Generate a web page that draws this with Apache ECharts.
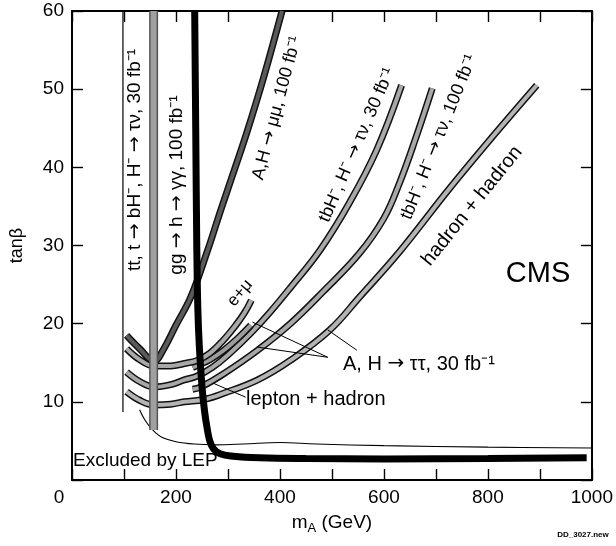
<!DOCTYPE html>
<html>
<head>
<meta charset="utf-8">
<script src="https://cdn.jsdelivr.net/npm/echarts@6/dist/echarts.min.js"></script>
<style>
  html, body { margin: 0; padding: 0; background: #fff; }
  #main { width: 616px; height: 546px; }
</style>
</head>
<body>
<div id="main"></div>
<script>
// reach curves, (mA [GeV], tan beta)
const hadHad = [[105,11.3],[130,10.2],[158,9.6],[190,9.7],[216,10.0],[254,10.3],[292,11.1],[357,12.8],[420,15.3],[496,19.2],[553,23.4],[630,29.2],[725,37.2],[810,44.0],[894,50.5]];
const tbH100 = [[232,11.6],[248,11.9],[292,13.6],[357,16.6],[420,20.0],[483,24.1],[553,29.0],[600,33.5],[630,38.0],[660,43.5],[693,50.1]];
const tbH30 = [[105,13.8],[130,12.6],[158,11.9],[190,12.2],[216,12.8],[241,13.3],[270,14.4],[300,16.0],[344,18.8],[380,21.4],[420,24.6],[477,29.4],[534,35.5],[586,42.2],[634,50.5]];
const tauLepHad = [[232,14.4],[265,15.4],[290,16.5],[320,18.2],[344,19.8]];
const ePlusMu = [[105,16.8],[130,15.4],[158,14.6],[190,14.6],[216,14.9],[241,15.3],[265,16.2],[290,17.8],[315,19.8],[332,21.4],[345,23.0]];
const muMu = [[105,18.5],[130,16.8],[158,15.2],[175,16.6],[200,19.8],[229,23.5],[261,29.4],[286,34.5],[312,39.6],[337,44.6],[369,51.6],[404,60]];
const ttH = [[157,60],[157,6.4]];
const ttEdge = [[98,60],[98,8.7]];
const lep = [[130,9.0],[140,7.7],[150,6.8],[160,6.1],[175,5.4],[200,4.9],[235,4.6],[275,4.5],[330,4.6],[400,4.8],[470,4.6],[600,4.4],[800,4.2],[1000,4.1]];
const ggGamma = [[236,60],[238,45],[240,30],[242,22],[245,17],[250,12],[255,8.8],[260,6.6],[265,5.0],[272,4.0],[285,3.35],[310,3.05],[360,2.85],[450,2.75],[600,2.7],[800,2.75],[990,2.85]];

// arrows from the A,H -> tautau label and the lepton+hadron pointer
const arrows = [[[492,15.7],[347,20.2]], [[492,15.7],[357,17.0]], [[548,16.6],[492,19.2]]];
const pointer = [[334,10.6],[271,12.4]];

const ff = '"Liberation Sans", Arial, sans-serif';
const f = s => s + 'px ' + ff;
const deg = d => d * Math.PI / 180;

function band(data, edge, fill, outer, inner) {
	return [
		{ type: 'line', data: data, smooth: 0.4, showSymbol: false, silent: true,
			lineStyle: { color: edge, width: outer } },
		{ type: 'line', data: data, smooth: 0.4, showSymbol: false, silent: true,
			lineStyle: { color: fill, width: inner } }
	];
}

// text label with a wider arrow glyph
function label(txt, x, y, size, rot, align) {
	return {
		type: 'text', x: x, y: y, rotation: deg(rot || 0), silent: true,
		style: {
			text: txt.replace(/→/g, '{a|→}'),
			font: f(size), fill: '#000',
			align: align || 'center', verticalAlign: 'middle',
			rich: { a: { fontFamily: '"DejaVu Sans"', fontSize: size, fill: '#000' } }
		}
	};
}

const series = [].concat(
	band(hadHad, '#111', '#b4b4b4', 7, 4),
	band(tbH100, '#111', '#a8a8a8', 7, 4),
	band(tbH30, '#111', '#a8a8a8', 7, 4),
	band(tauLepHad, '#111', '#9c9c9c', 7, 4),
	band(ePlusMu, '#111', '#a8a8a8', 7, 4),
	band(muMu, '#111', '#5a5a5a', 7, 4),
	[
		{ type: 'line', data: ttEdge, showSymbol: false, silent: true, lineStyle: { color: '#000', width: 1.2 } },
		{ type: 'line', data: lep, smooth: 0.4, showSymbol: false, silent: true, lineStyle: { color: '#000', width: 1.1 } }
	],
	band(ttH, '#555', '#a0a0a0', 9, 6),
	[
		{ type: 'line', data: ggGamma, smooth: 0.4, showSymbol: false, silent: true,
			lineStyle: { color: '#000', width: 7 },
			markLine: {
				silent: true, animation: false,
				symbol: ['none', 'arrow'], symbolSize: [0, 9],
				lineStyle: { color: '#000', width: 1, type: 'solid' },
				label: { show: false },
				data: arrows.map(a => [{ coord: a[0] }, { coord: a[1] }]).concat([
					[{ coord: pointer[0], symbol: 'none' }, { coord: pointer[1], symbol: 'none' }]
				])
			}
		}
	]
);

const chart = echarts.init(document.getElementById('main'), null, { renderer: 'canvas' });

const frameLine = { show: true, onZero: false, lineStyle: { color: '#000', width: 2 } };
const tick = { show: true, inside: true, length: 11, lineStyle: { color: '#000', width: 1.4 } };

chart.setOption({
	animation: false,
	backgroundColor: '#fff',
	grid: { left: 70, right: 22, top: 11, bottom: 66 },
	xAxis: [
		{
			type: 'value', min: 0, max: 1000, interval: 100, position: 'bottom',
			axisLine: frameLine, axisTick: tick, splitLine: { show: false },
			axisLabel: {
				margin: 8, color: '#000', fontSize: 19, fontFamily: ff,
				formatter: v => v % 200 === 0 ? (v === 0 ? '{z|0}' : String(v)) : '',
				rich: { z: { fontSize: 19, fontFamily: ff, color: '#000', padding: [0, 26, 0, 0] } }
			},
			name: '{m|m}{s|A}{m| (GeV)}', nameLocation: 'middle', nameGap: 30,
			nameTextStyle: {
				rich: {
					m: { fontSize: 19, fontFamily: ff, color: '#000' },
					s: { fontSize: 13, fontFamily: ff, color: '#000', padding: [12, 0, 0, 0] }
				}
			}
		},
		{
			type: 'value', min: 0, max: 1000, interval: 100, position: 'top',
			axisLine: frameLine, axisTick: tick, splitLine: { show: false },
			axisLabel: { show: false }
		}
	],
	yAxis: [
		{
			type: 'value', min: 0, max: 60, interval: 10, position: 'left',
			axisLine: frameLine, axisTick: tick, splitLine: { show: false },
			axisLabel: {
				margin: 8, color: '#000', fontSize: 19, fontFamily: ff,
				formatter: v => v === 0 ? '' : String(v)
			},
			name: 'tanβ', nameLocation: 'middle', nameGap: 46, nameRotate: 90,
			nameTextStyle: { fontSize: 18, fontFamily: ff, color: '#000' }
		},
		{
			type: 'value', min: 0, max: 60, interval: 10, position: 'right',
			axisLine: frameLine, axisTick: tick, splitLine: { show: false },
			axisLabel: { show: false }
		}
	],
	graphic: [
		label('tt, t → bH⁻, H⁻ → τν, 30 fb⁻¹', 135, 160, 19, 90),
		label('gg → h → γγ, 100 fb⁻¹', 177, 185, 19, 90),
		label('A,H → μμ, 100 fb⁻¹', 277, 108, 18, 75),
		label('tbH⁻, H⁻ → τν, 30 fb⁻¹', 357, 145, 18, 66.5),
		label('tbH⁻, H⁻ → τν, 100 fb⁻¹', 439, 137, 18, 68),
		label('hadron + hadron', 472, 206, 20, 51),
		label('e+μ', 240, 293, 17, 50),
		label('CMS', 538, 274, 29, 0),
		label('A, H → ττ, 30 fb⁻¹', 343, 364, 20, 0, 'left'),
		label('lepton + hadron', 246, 399, 20, 0, 'left'),
		label('Excluded by LEP', 73, 461, 19, 0, 'left'),
		{ type: 'text', x: 583, y: 535, silent: true,
			style: { text: 'DD_3027.new', font: 'bold 8px ' + ff, fill: '#000', align: 'center', verticalAlign: 'middle' } }
	],
	series: series
});
</script>
</body>
</html>
